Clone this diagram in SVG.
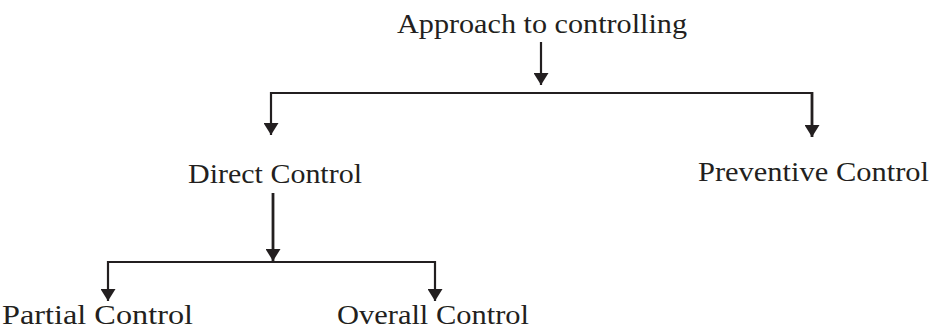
<svg xmlns="http://www.w3.org/2000/svg" width="933" height="330" viewBox="0 0 933 330">
  <style>
    .label { font-family: "Liberation Serif", "DejaVu Serif", serif; font-size: 27px; fill: #231f20; }
    .wire { fill: none; stroke: #231f20; stroke-width: 2; }
    .arrow { fill: none; stroke: #231f20; stroke-width: 2.2; marker-end: url(#head); }
  </style>
  <defs>
    <marker id="head" markerUnits="userSpaceOnUse" markerWidth="12" markerHeight="15" refX="12" refY="7.5" orient="auto">
      <path d="M0,0 L12,7.5 L0,15 Z" fill="#231f20"/>
    </marker>
  </defs>
  <rect width="933" height="330" fill="#ffffff"/>

  <g id="connectors">
    <!-- root to first branch -->
    <line class="arrow" x1="541" y1="42" x2="541" y2="85"/>
    <line class="wire" x1="270" y1="93" x2="813" y2="93"/>
    <line class="arrow" x1="271" y1="92" x2="271" y2="135"/>
    <line class="arrow" x1="812" y1="92" x2="812" y2="137" style="stroke-width:2.8"/>
    <!-- direct control to second branch -->
    <line class="arrow" x1="273" y1="193" x2="273" y2="261" style="stroke-width:2.8"/>
    <line class="wire" x1="107" y1="262" x2="436" y2="262"/>
    <line class="arrow" x1="108" y1="261" x2="108" y2="301"/>
    <line class="arrow" x1="435" y1="261" x2="435" y2="301"/>
  </g>

  <g id="node-root">
    <text class="label" x="397" y="33" textLength="290" lengthAdjust="spacingAndGlyphs">Approach to controlling</text>
  </g>
  <g id="node-direct">
    <text class="label" x="188" y="183" textLength="174" lengthAdjust="spacingAndGlyphs">Direct Control</text>
  </g>
  <g id="node-preventive">
    <text class="label" x="698" y="181" textLength="231" lengthAdjust="spacingAndGlyphs">Preventive Control</text>
  </g>
  <g id="node-partial">
    <text class="label" x="2" y="324" textLength="191" lengthAdjust="spacingAndGlyphs">Partial Control</text>
  </g>
  <g id="node-overall">
    <text class="label" x="337" y="324" textLength="192" lengthAdjust="spacingAndGlyphs">Overall Control</text>
  </g>
</svg>
